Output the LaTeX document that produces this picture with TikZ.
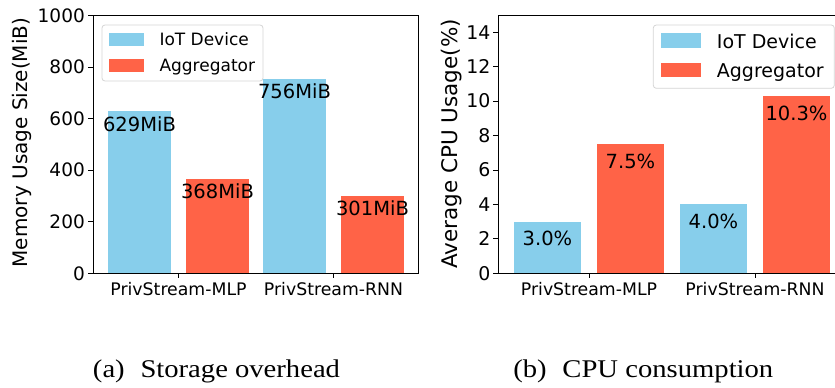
\documentclass[tikz,border=0pt]{standalone}
\usepackage{fontspec}
\usepackage{graphicx}
\setmainfont{DejaVu Sans}
\newfontfamily\capfont{Liberation Serif}
\definecolor{iotblue}{HTML}{87CEEB}
\definecolor{aggred}{HTML}{FF6347}
\definecolor{legedge}{HTML}{D5D5D5}
\tikzset{
  spine/.style={line width=1pt, black},
  tickmark/.style={line width=0.9pt, black},
  yticklab/.style={anchor=east, inner sep=0pt, font=\fontsize{18.5}{19}\selectfont},
  ytickR/.style={anchor=east, inner sep=0pt, font=\fontsize{18.9}{19}\selectfont},
  xticklab/.style={anchor=base, inner sep=0pt, font=\fontsize{17.3}{18}\selectfont},
  vallabel/.style={anchor=center, inner sep=0pt, font=\fontsize{19.5}{20}\selectfont},
  legbox/.style={draw=legedge, line width=0.8pt, fill=white, rounded corners=3pt},
  legtextA/.style={anchor=base west, inner sep=0pt, font=\fontsize{17}{18}\selectfont},
  legtextB/.style={anchor=base west, inner sep=0pt, font=\fontsize{19}{20}\selectfont},
  captext/.style={anchor=base, inner sep=0pt, font=\capfont\fontsize{25.5}{26}\selectfont}
}
\begin{document}
\begin{tikzpicture}[x=1pt,y=-1pt]
\useasboundingbox (0,0) rectangle (835,388);

% ---------- (a) memory usage ----------
\foreach \cx/\v/\col/\lab [count=\i] in {139.5/629/iotblue/629MiB, 217.5/368/aggred/368MiB, 294.5/756/iotblue/756MiB, 372.5/301/aggred/301MiB}{
  \pgfmathsetmacro\ytop{273.3-\v*0.2576}
  \fill[\col] (\cx-31.5,273.3) rectangle (\cx+31.5,\ytop);
  \node[vallabel] (memval\i) at (\cx,\ytop+12.5) {\lab};
}
\draw[spine] (93,15.7) rectangle (418,273.3);
\foreach \v [count=\i] in {0,200,400,600,800,1000}{
  \pgfmathsetmacro\yy{273.3-\v*0.2576}
  \draw[tickmark] (88,\yy) -- (93,\yy);
  \node[yticklab] (memtick\i) at (85,\yy) {\v};
}
\draw[tickmark] (178.5,273.3) -- (178.5,278.3);
\draw[tickmark] (333.5,273.3) -- (333.5,278.3);
\node[xticklab] (memxa) at (178.5,295) {PrivStream-MLP};
\node[xticklab] (memxb) at (333.5,295) {PrivStream-RNN};
\node[rotate=90, font=\fontsize{20}{20}\selectfont, inner sep=0pt] (memylab) at (22,142.5) {Memory Usage Size(MiB)};
% legend
\draw[legbox] (102,25) rectangle (263,81);
\fill[iotblue] (109,33.3) rectangle (144,45.7);
\fill[aggred] (109,59) rectangle (144,71.7);
\node[legtextA] (memlegA) at (159.3,45.7) {IoT Device};
\node[legtextA] (memlegB) at (159.3,71.4) {Aggregator};

% ---------- (b) CPU usage ----------
\foreach \cx/\v/\col/\lab [count=\i] in {547.5/3.0/iotblue/3.0\%, 630.5/7.5/aggred/7.5\%, 713.5/4.0/iotblue/4.0\%, 796.5/10.3/aggred/10.3\%}{
  \pgfmathsetmacro\ytop{273.3-\v*17.22}
  \fill[\col] (\cx-33.3,273.3) rectangle (\cx+33.3,\ytop);
  \node[vallabel] (cpuval\i) at (\cx,\ytop+17) {\lab};
}
\draw[spine] (840,15) -- (498.3,15) -- (498.3,273.3) -- (840,273.3);
\foreach \v [count=\i] in {0,2,4,6,8,10,12,14}{
  \pgfmathsetmacro\yy{273.3-\v*17.22}
  \draw[tickmark] (493.3,\yy) -- (498.3,\yy);
  \node[ytickR] (cputick\i) at (490.5,\yy) {\v};
}
\draw[tickmark] (589,273.3) -- (589,278.3);
\draw[tickmark] (755,273.3) -- (755,278.3);
\node[xticklab] (cpuxa) at (589,295) {PrivStream-MLP};
\node[xticklab] (cpuxb) at (755,295) {PrivStream-RNN};
\node[rotate=90, font=\fontsize{21.5}{22}\selectfont, inner sep=0pt] (cpuylab) at (451.7,144) {Average CPU Usage(\%)};
% legend
\draw[legbox] (653.3,25) rectangle (834.3,88.3);
\fill[iotblue] (661,33.3) rectangle (701,47.7);
\fill[aggred] (661,62.7) rectangle (701,76.7);
\node[legtextB] (cpulegA) at (716.7,48.6) {IoT Device};
\node[legtextB] (cpulegB) at (716.7,77.3) {Aggregator};

% ---------- captions ----------
\node[captext] (capa) at (216.5,377.5) {\resizebox{247pt}{\height}{(a)\hspace{0.55em}Storage overhead}};
\node[captext] (capb) at (643.3,377.5) {\resizebox{260pt}{\height}{(b)\hspace{0.55em}CPU consumption}};
\end{tikzpicture}
\end{document}
